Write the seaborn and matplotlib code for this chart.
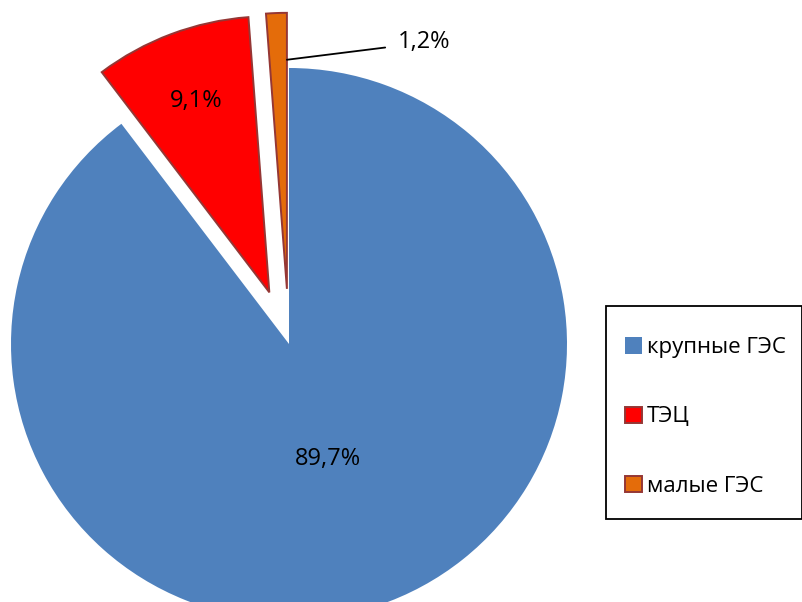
import numpy as np
import seaborn as sns
import matplotlib.pyplot as plt
from matplotlib.patches import Rectangle

# --- Data ---
categories = ["крупные ГЭС", "ТЭЦ", "малые ГЭС"]
shares = [89.7, 9.1, 1.2]
colors = ["#4F81BD", "#FF0000", "#E46C0A"]
edge_colors = ["none", "#953735", "#953735"]
explode = [0.0, 0.2, 0.2]

sns.set_theme(style="white")
FONT = ["Open Sans", "DejaVu Sans"]
plt.rcParams["font.family"] = FONT

W, H = 803, 602
cx, cy = 289, 344   # pie centre in pixels (from top-left)
RX, RY = 278, 276   # pixels per data unit (pie is a touch wider than tall)

fig = plt.figure(figsize=(W / 100, H / 100), dpi=100)
ax = fig.add_axes([0, 0, 1, 1])

wedges, _ = ax.pie(
    shares,
    colors=colors,
    explode=explode,
    startangle=90,
    counterclock=False,
    radius=1.0,
    wedgeprops=dict(linewidth=1.4),
)
for w, ec in zip(wedges, edge_colors):
    w.set_edgecolor(ec)
    if ec == "none":
        w.set_linewidth(0)

ax.set_aspect("auto")
ax.set_xlim(-cx / RX, (W - cx) / RX)
ax.set_ylim(-(H - cy) / RY, cy / RY)
ax.axis("off")


def fmt(v):
    return f"{v:.1f}".replace(".", ",") + "%"


def wedge_point(w, r, ang=None):
    if ang is None:
        ang = (w.theta1 + w.theta2) / 2
    a = np.deg2rad(ang)
    return w.center[0] + r * np.cos(a), w.center[1] + r * np.sin(a)


font_kw = dict(fontsize=17, color="black", family=FONT)

# inside labels
x, y = wedge_point(wedges[0], 0.44)
ax.text(x, y, fmt(shares[0]), ha="center", va="center", **font_kw)
x, y = wedge_point(wedges[1], 0.74)
ax.text(x, y, fmt(shares[1]), ha="center", va="center", **font_kw)

# outside label with leader line for the small slice
w = wedges[2]
px, py = wedge_point(w, 0.83, ang=min(w.theta1, w.theta2))
ax.annotate(
    fmt(shares[2]),
    xy=(px, py),
    xytext=(px + 0.40, py + 0.065),
    ha="left",
    va="center",
    arrowprops=dict(arrowstyle="-", color="black", lw=1.3,
                    shrinkA=7, shrinkB=0, relpos=(0, 0.33)),
    **font_kw,
)

# legend (frame drawn separately so the padding can differ per side)
leg = fig.legend(
    wedges,
    categories,
    loc="center left",
    bbox_to_anchor=(625 / W, 1 - 417 / H),
    frameon=False,
    fontsize=16,
    labelspacing=2.17,
    handlelength=0.75,
    handleheight=0.75,
    handletextpad=0.25,
    borderpad=0,
    borderaxespad=0,
)
for t in leg.get_texts():
    t.set_family(FONT)
    t.set_color("black")

fig.patches.append(Rectangle((606 / W, 1 - 519 / H), 196 / W, 213 / H,
                             transform=fig.transFigure, fill=False,
                             edgecolor="black", linewidth=1.3))

fig.savefig("out.png", dpi=100)
